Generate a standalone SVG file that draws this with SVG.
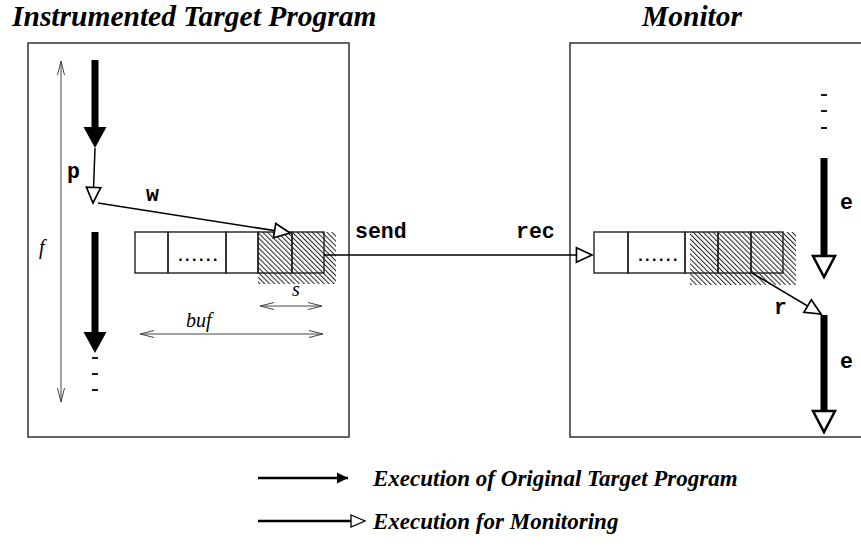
<svg xmlns="http://www.w3.org/2000/svg" width="861" height="552" viewBox="0 0 861 552">
<style>
.box{fill:none;stroke:#333;stroke-width:1.5}
.cell{fill:none;stroke:#222;stroke-width:1.4}
.thin{fill:none;stroke:#000;stroke-width:1.5}
.dim{fill:none;stroke:#444;stroke-width:1}
.title{font-family:"Liberation Serif","Times New Roman",serif;font-weight:bold;font-style:italic;font-size:29.5px;fill:#000}
.leg{font-family:"Liberation Serif","Times New Roman",serif;font-weight:bold;font-style:italic;font-size:23px;fill:#000}
.code{font-family:"Liberation Mono","Courier New",monospace;font-weight:bold;font-size:21.5px;fill:#000}
.it{font-family:"Liberation Serif","Times New Roman",serif;font-style:italic;font-size:20px;fill:#000}
.dots{font-family:"Liberation Sans",Arial,sans-serif;font-weight:bold;font-size:16px;letter-spacing:2.5px;fill:#000}
.shaft{fill:none;stroke:#000;stroke-width:7}
.dash{stroke:#000;stroke-width:1.8}
</style>
<defs>
<pattern id="hatch" width="3.5" height="3.5" patternUnits="userSpaceOnUse" patternTransform="rotate(-45)">
<line x1="0.5" y1="0" x2="0.5" y2="3.5" stroke="#222" stroke-width="1"/>
</pattern>
<marker id="open" markerUnits="userSpaceOnUse" markerWidth="20" markerHeight="20" viewBox="-16 -8 18 16" refX="0" refY="0" orient="auto">
<path d="M-14,-6.5 L0,0 L-14,6.5 Z" fill="#fff" stroke="#000" stroke-width="1.5"/>
</marker>
<marker id="vee" markerUnits="userSpaceOnUse" markerWidth="18" markerHeight="10" viewBox="-16 -5 18 10" refX="0" refY="0" orient="auto-start-reverse">
<path d="M-14,-3.5 L0,0 L-14,3.5" fill="none" stroke="#444" stroke-width="1"/>
</marker>
<marker id="solid" markerUnits="userSpaceOnUse" markerWidth="14" markerHeight="14" viewBox="-12 -7 13 14" refX="0" refY="0" orient="auto">
<path d="M-11,-5.5 L0,0 L-11,5.5 Z" fill="#000"/>
</marker>
</defs>

<text class="title" x="12" y="26">Instrumented Target Program</text>
<text class="title" x="642" y="26">Monitor</text>

<g id="target">
<rect class="box" x="28" y="43" width="321" height="394"/>
</g>
<g id="monitor">
<rect class="box" x="570" y="43" width="300" height="394"/>
</g>

<g id="buffer-target">
<rect x="258" y="232" width="78" height="52" fill="url(#hatch)"/>
<rect class="cell" x="135" y="232" width="33" height="41"/>
<rect class="cell" x="168" y="232" width="58" height="41"/>
<rect class="cell" x="226" y="232" width="32" height="41"/>
<rect class="cell" x="258" y="232" width="34" height="41"/>
<rect class="cell" x="292" y="232" width="32" height="41"/>
<text class="dots" x="199" y="261" text-anchor="middle">......</text>
</g>

<g id="buffer-monitor">
<rect x="690" y="232" width="106" height="53" fill="url(#hatch)"/>
<rect class="cell" x="594" y="232" width="34" height="41"/>
<rect class="cell" x="628" y="232" width="57" height="41"/>
<rect class="cell" x="685" y="232" width="33" height="41"/>
<rect class="cell" x="718" y="232" width="33" height="41"/>
<rect class="cell" x="751" y="232" width="32" height="41"/>
<text class="dots" x="659" y="261" text-anchor="middle">......</text>
</g>

<g id="connectors">
<line class="dim" x1="61" y1="61" x2="61" y2="402" marker-start="url(#vee)" marker-end="url(#vee)"/>
<line class="dim" x1="260" y1="306" x2="322" y2="306" marker-start="url(#vee)" marker-end="url(#vee)"/>
<line class="dim" x1="140" y1="334" x2="323" y2="334" marker-start="url(#vee)" marker-end="url(#vee)"/>

<line class="shaft" x1="95" y1="60" x2="95" y2="130"/>
<path d="M83.5,127 L106.5,127 L95,148 Z" fill="#000"/>
<line class="thin" x1="95" y1="148" x2="93" y2="203" marker-end="url(#open)"/>
<line class="thin" x1="98" y1="203" x2="290" y2="233" marker-end="url(#open)"/>
<line class="shaft" x1="95" y1="232" x2="95" y2="335"/>
<path d="M83.5,332 L106.5,332 L95,353 Z" fill="#000"/>
<line class="dash" x1="92" y1="358" x2="98" y2="358"/>
<line class="dash" x1="92" y1="374" x2="98" y2="374"/>
<line class="dash" x1="92" y1="390" x2="98" y2="390"/>

<line class="thin" x1="324" y1="255" x2="592" y2="255" marker-end="url(#open)"/>

<line class="dash" x1="821" y1="95" x2="827" y2="95"/>
<line class="dash" x1="821" y1="111" x2="827" y2="111"/>
<line class="dash" x1="821" y1="128" x2="827" y2="128"/>
<line class="shaft" x1="824" y1="158" x2="824" y2="256"/>
<path d="M813,256 L835,256 L824,277 Z" fill="#fff" stroke="#000" stroke-width="2.5"/>
<line class="thin" x1="752" y1="273" x2="821" y2="314" marker-end="url(#open)"/>
<line class="shaft" x1="824" y1="315" x2="824" y2="411"/>
<path d="M813,411 L835,411 L824,432 Z" fill="#fff" stroke="#000" stroke-width="2.5"/>

<line x1="258" y1="478" x2="348" y2="478" stroke="#000" stroke-width="2.6" marker-end="url(#solid)"/>
<line x1="258" y1="521" x2="352" y2="521" stroke="#000" stroke-width="2.6"/>
<path d="M351,515 L365,521 L351,527 Z" fill="#fff" stroke="#000" stroke-width="1.3"/>
</g>

<g id="labels">
<text class="code" x="67" y="178">p</text>
<text class="code" x="146" y="201">w</text>
<text class="code" x="355" y="238">send</text>
<text class="code" x="516" y="238">rec</text>
<text class="code" x="840" y="209">e</text>
<text class="code" x="840" y="368">e</text>
<text class="code" x="774" y="314">r</text>
<text class="it" x="39" y="254">f</text>
<text class="it" x="292" y="296">s</text>
<text class="it" x="186" y="327">buf</text>
<text class="leg" x="373" y="486">Execution of Original Target Program</text>
<text class="leg" x="373" y="529">Execution for Monitoring</text>
</g>
</svg>
